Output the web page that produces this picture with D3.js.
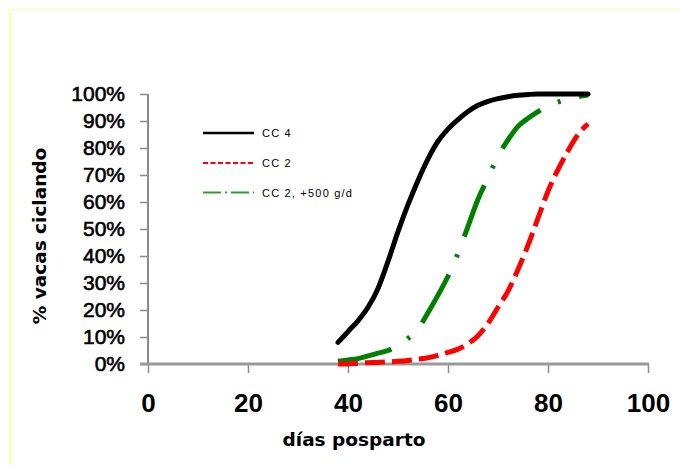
<!DOCTYPE html>
<html>
<head>
<meta charset="utf-8">
<script src="https://cdn.jsdelivr.net/npm/d3@7"></script>
<style>
  body { margin: 0; background: #fff; }
  svg { display: block; }
</style>
</head>
<body>
<svg id="chart" width="680" height="465"></svg>
<script>
// ---- data ----
const dias = [38,40,42,44,46,48,50,52,54,56,58,60,62,64,66,68,70,72,74,76,78,80,82,84,86,88];
const cc4 = [8,12,16,21,28,38,49,59,68,76,82.5,87,90.5,93.5,95.8,97.3,98.3,99,99.5,99.8,100,100,100,100,100,100];
const cc2 = [0,0,0.3,0.5,0.6,0.8,1,1.3,1.8,2.3,3.2,4.3,5.5,7.5,10.5,15,21,27,35,44,54,64,72,79,85,89];
const cc2plus = [1,1.5,2,3,4,5,7,9.5,13,19,25.5,32.5,41,51,61,69,77,83,88,91,93.5,95.5,97,98.2,99,99.6];
const seriesNames = ["CC 4", "CC 2", "CC 2, +500 g/d"];
const seriesColors = ["#000000", "#ff0000", "#008000"];
const xTicks = [0,20,40,60,80,100];
const yTicks = [0,10,20,30,40,50,60,70,80,90,100];
const xTitle = "días posparto";
const yTitle = "% vacas ciclando";

const svg = d3.select("#chart");

// outer frame (light yellow, top and left edges)
svg.append("line").attr("x1", 9).attr("x2", 680).attr("y1", 9.5).attr("y2", 9.5)
  .attr("stroke", "#ffff99").attr("stroke-width", 1);
svg.append("line").attr("x1", 10).attr("x2", 10).attr("y1", 9).attr("y2", 465)
  .attr("stroke", "#ffff99").attr("stroke-width", 2);

const x = d3.scaleLinear().domain([0, 100]).range([148, 648]);
const y = d3.scaleLinear().domain([0, 100]).range([364, 94]);

// y axis
const yAxis = svg.append("g").attr("transform", `translate(${x(0)},0)`)
  .call(d3.axisLeft(y).tickValues(yTicks).tickSize(8).tickPadding(15).tickFormat(d => d + "%"));
yAxis.select(".domain").remove();
yAxis.selectAll(".tick line").attr("stroke", "#8c8c8c").attr("stroke-width", 1.5);
yAxis.selectAll(".tick text")
  .attr("font-family", "'Liberation Sans', Arial, sans-serif")
  .attr("font-size", 21).attr("fill", "#000").attr("stroke", "#000").attr("stroke-width", 0.6);
svg.append("line").attr("x1", x(0)).attr("x2", x(0)).attr("y1", y(100)).attr("y2", y(0))
  .attr("stroke", "#8c8c8c").attr("stroke-width", 2);

// x axis
const xAxis = svg.append("g").attr("transform", `translate(0,${y(0)})`)
  .call(d3.axisBottom(x).tickValues(xTicks).tickSize(9).tickPadding(21).tickFormat(d3.format("d")));
xAxis.select(".domain").remove();
xAxis.selectAll(".tick line").attr("stroke", "#8c8c8c").attr("stroke-width", 1.5);
xAxis.selectAll(".tick text")
  .attr("font-family", "'Liberation Sans', Arial, sans-serif")
  .attr("font-weight", "bold").attr("font-size", 26).attr("fill", "#000");
svg.append("line").attr("x1", x(0) - 8).attr("x2", x(100) + 1).attr("y1", y(0)).attr("y2", y(0))
  .attr("stroke", "#999").attr("stroke-width", 3);

// axis titles
svg.append("text").attr("x", 354).attr("y", 446).attr("text-anchor", "middle")
  .attr("font-family", "'DejaVu Sans', Verdana, sans-serif").attr("font-weight", "bold")
  .attr("font-size", 18.5).attr("fill", "#000").text(xTitle);
svg.append("text").attr("transform", "translate(46,236) rotate(-90)").attr("text-anchor", "middle")
  .attr("font-family", "'DejaVu Sans', Verdana, sans-serif").attr("font-weight", "bold")
  .attr("font-size", 18.5).attr("fill", "#000").text(yTitle);

// curves
const line = d3.line().x(d => x(d[0])).y(d => y(d[1])).curve(d3.curveMonotoneX);
const seriesData = [cc4, cc2, cc2plus].map(vals => dias.map((d, i) => [d, vals[i]]));
const dashes = [null, "20,7", "55,19,3,19"];
const legendDashes = [null, "5,2.5", "18,4,2,4"];

// draw order: green, red, black (black on top)
[2, 1, 0].forEach(i => {
  svg.append("path").datum(seriesData[i]).attr("d", line)
    .attr("fill", "none").attr("stroke", seriesColors[i]).attr("stroke-width", 5)
    .attr("stroke-linecap", i === 0 ? "round" : "butt")
    .attr("stroke-dasharray", dashes[i]);
});

// legend
const legendY = [133, 163, 192.5];
seriesNames.forEach((name, i) => {
  svg.append("line").attr("x1", 203).attr("x2", 254).attr("y1", legendY[i]).attr("y2", legendY[i])
    .attr("stroke", i === 2 ? "#339933" : seriesColors[i]).attr("stroke-width", i === 0 ? 2.5 : 2)
    .attr("stroke-dasharray", legendDashes[i]);
  svg.append("text").attr("x", 262).attr("y", legendY[i] + 4)
    .attr("font-family", "'Liberation Sans', Arial, sans-serif").attr("font-size", 11)
    .attr("letter-spacing", 1.2).attr("fill", "#000").text(name);
});
</script>
</body>
</html>
